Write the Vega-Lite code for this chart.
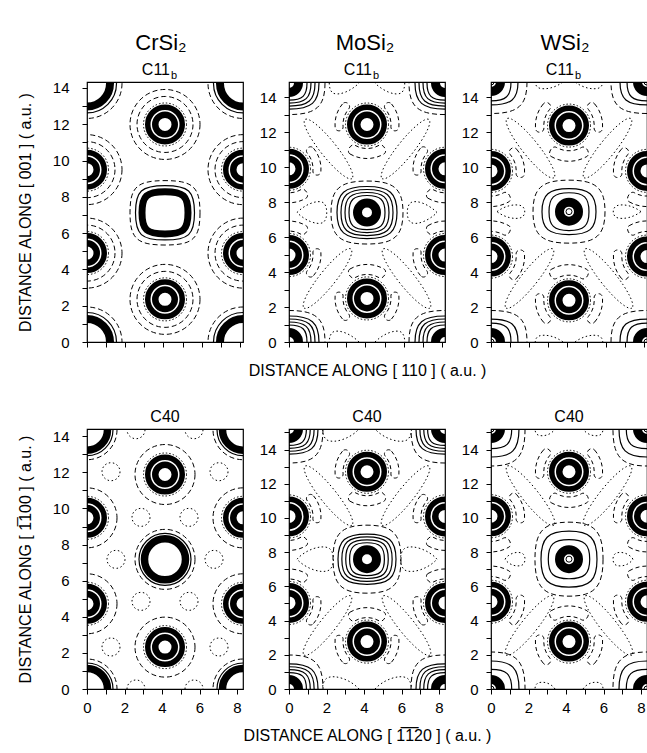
{
"$schema":"https://vega.github.io/schema/vega-lite/v6.json",
"background":"white",
"padding":{"left":16,"top":31,"right":0,"bottom":0},
"config":{
 "font":"Liberation Sans",
 "view":{"stroke":"black","strokeWidth":1.2},
 "point":{"filled":false,"opacity":1,"stroke":"black","strokeWidth":1},
 "text":{"font":"Liberation Sans","fill":"black","fontSize":16},
 "axis":{"grid":false,"domain":false,"tickColor":"black","tickSize":5,"tickWidth":1,"labelFontSize":15,"labelColor":"black","labelFont":"Liberation Sans","titleFont":"Liberation Sans","titleFontSize":16,"titleFontWeight":"normal","titleColor":"black","labelFlush":false,"labelOverlap":false,"labelPadding":8}
},
"datasets":{"atoms":[
 {"p":"P1","t":"M","x":4.08,"y":7.12},{"p":"P1","t":"M","x":0,"y":0},{"p":"P1","t":"M","x":8.16,"y":0},{"p":"P1","t":"M","x":0,"y":14.25},{"p":"P1","t":"M","x":8.16,"y":14.25},
 {"p":"P1","t":"Si","x":4.08,"y":11.99},{"p":"P1","t":"Si","x":4.08,"y":2.35},{"p":"P1","t":"Si","x":0,"y":9.5},{"p":"P1","t":"Si","x":0,"y":4.9},{"p":"P1","t":"Si","x":8.16,"y":9.5},{"p":"P1","t":"Si","x":8.16,"y":4.9},
 {"p":"P2","t":"M","x":4.08,"y":7.4},{"p":"P2","t":"M","x":0,"y":0},{"p":"P2","t":"M","x":8.16,"y":0},{"p":"P2","t":"M","x":0,"y":14.8},{"p":"P2","t":"M","x":8.16,"y":14.8},
 {"p":"P2","t":"Si","x":4.08,"y":12.43},{"p":"P2","t":"Si","x":4.08,"y":2.49},{"p":"P2","t":"Si","x":0,"y":9.9},{"p":"P2","t":"Si","x":0,"y":4.97},{"p":"P2","t":"Si","x":8.16,"y":9.9},{"p":"P2","t":"Si","x":8.16,"y":4.97},
 {"p":"P3","t":"M","x":4.08,"y":7.45},{"p":"P3","t":"M","x":0,"y":0},{"p":"P3","t":"M","x":8.16,"y":0},{"p":"P3","t":"M","x":0,"y":14.86},{"p":"P3","t":"M","x":8.16,"y":14.86},
 {"p":"P3","t":"Si","x":4.08,"y":12.37},{"p":"P3","t":"Si","x":4.08,"y":2.38},{"p":"P3","t":"Si","x":0,"y":9.78},{"p":"P3","t":"Si","x":0,"y":4.88},{"p":"P3","t":"Si","x":8.16,"y":9.78},{"p":"P3","t":"Si","x":8.16,"y":4.88},
 {"p":"P4","t":"M","x":4.16,"y":7.18},{"p":"P4","t":"M","x":0,"y":0},{"p":"P4","t":"M","x":8.32,"y":0},{"p":"P4","t":"M","x":0,"y":14.36},{"p":"P4","t":"M","x":8.32,"y":14.36},
 {"p":"P4","t":"Si","x":4.16,"y":11.88},{"p":"P4","t":"Si","x":4.16,"y":2.32},{"p":"P4","t":"Si","x":0,"y":9.48},{"p":"P4","t":"Si","x":0,"y":4.72},{"p":"P4","t":"Si","x":8.32,"y":9.48},{"p":"P4","t":"Si","x":8.32,"y":4.72},
 {"p":"P5","t":"M","x":4.16,"y":7.59},{"p":"P5","t":"M","x":0,"y":0},{"p":"P5","t":"M","x":8.32,"y":0},{"p":"P5","t":"M","x":0,"y":15.2},{"p":"P5","t":"M","x":8.32,"y":15.2},
 {"p":"P5","t":"Si","x":4.16,"y":12.7},{"p":"P5","t":"Si","x":4.16,"y":2.77},{"p":"P5","t":"Si","x":0,"y":10.09},{"p":"P5","t":"Si","x":0,"y":5.03},{"p":"P5","t":"Si","x":8.32,"y":10.09},{"p":"P5","t":"Si","x":8.32,"y":5.03},
 {"p":"P6","t":"M","x":4.16,"y":7.59},{"p":"P6","t":"M","x":0,"y":0},{"p":"P6","t":"M","x":8.32,"y":0},{"p":"P6","t":"M","x":0,"y":15.2},{"p":"P6","t":"M","x":8.32,"y":15.2},
 {"p":"P6","t":"Si","x":4.16,"y":12.7},{"p":"P6","t":"Si","x":4.16,"y":2.77},{"p":"P6","t":"Si","x":0,"y":10.1},{"p":"P6","t":"Si","x":0,"y":5.1},{"p":"P6","t":"Si","x":8.32,"y":10.1},{"p":"P6","t":"Si","x":8.32,"y":5.1}
]},
"columns":3,
"spacing":{"row":87,"column":46},
"bounds":"flush",
"concat":[
{
 "width":156,"height":260,"data":{"name":"atoms"},
 "resolve":{"axis":{"x":"independent","y":"independent"}},
 "layer":[
 {
  "encoding":{
   "x":{"field":"x","type":"quantitative","scale":{"domain":[0,8.16],"nice":false,"zero":false},"axis":{"values":[0,1,2,3,4,5,6,7,8],"labels":false,"title":null}},
   "y":{"field":"y","type":"quantitative","scale":{"domain":[0,14.33],"nice":false,"zero":false},"axis":{"values":[0,1,2,3,4,5,6,7,8,9,10,11,12,13,14],"labelExpr":"datum.value % 2 == 0 ? datum.label : ''","labelPadding":13,"title":"DISTANCE ALONG [ 001 ]  ( a.u. )","titlePadding":19}}
  },
  "layer":[
   {"transform":[{"filter":"datum.p=='P1' && datum.t=='Si'"}],"mark":{"type":"point","shape":"circle","size":4900,"strokeDash":[5,3],"clip":true}},
   {"transform":[{"filter":"datum.p=='P1' && datum.t=='Si'"}],"mark":{"type":"point","shape":"circle","size":3136,"strokeDash":[5,3],"clip":true}},
   {"transform":[{"filter":"datum.p=='P1' && datum.t=='Si'"}],"mark":{"type":"point","shape":"circle","size":1849,"strokeDash":[1.5,2],"clip":true}},
   {"transform":[{"filter":"datum.p=='P1' && datum.t=='Si'"}],"mark":{"type":"point","shape":"circle","size":1190,"strokeWidth":5.5,"clip":true}},
   {"transform":[{"filter":"datum.p=='P1' && datum.t=='Si'"}],"mark":{"type":"point","shape":"circle","size":380,"strokeWidth":6.5,"clip":true}},
   {"transform":[{"filter":"datum.p=='P1' && datum.t=='M' && datum.x > 1 && datum.x < 7"}],"mark":{"type":"point","shape":"M 1 0 C 1 0.74 0.8 0.92 0 0.92 C -0.8 0.92 -1 0.74 -1 0 C -1 -0.74 -0.8 -0.92 0 -0.92 C 0.8 -0.92 1 -0.74 1 0 Z","size":4900,"strokeDash":[5,3],"clip":true}},
   {"transform":[{"filter":"datum.p=='P1' && datum.t=='M' && datum.x > 1 && datum.x < 7"}],"mark":{"type":"point","shape":"M 1 0 C 1 0.74 0.8 0.92 0 0.92 C -0.8 0.92 -1 0.74 -1 0 C -1 -0.74 -0.8 -0.92 0 -0.92 C 0.8 -0.92 1 -0.74 1 0 Z","size":3481,"strokeWidth":1.2,"clip":true}},
   {"transform":[{"filter":"datum.p=='P1' && datum.t=='M' && datum.x > 1 && datum.x < 7"}],"mark":{"type":"point","shape":"M 1 0 C 1 0.74 0.8 0.92 0 0.92 C -0.8 0.92 -1 0.74 -1 0 C -1 -0.74 -0.8 -0.92 0 -0.92 C 0.8 -0.92 1 -0.74 1 0 Z","size":2116,"strokeWidth":7,"clip":true}},
   {"transform":[{"filter":"datum.p=='P1' && datum.t=='M' && (datum.x < 1 || datum.x > 7)"}],"mark":{"type":"point","shape":"circle","size":4900,"strokeDash":[5,3],"clip":true}},
   {"transform":[{"filter":"datum.p=='P1' && datum.t=='M' && (datum.x < 1 || datum.x > 7)"}],"mark":{"type":"point","shape":"circle","size":3481,"strokeWidth":1.2,"clip":true}},
   {"transform":[{"filter":"datum.p=='P1' && datum.t=='M' && (datum.x < 1 || datum.x > 7)"}],"mark":{"type":"point","shape":"circle","size":2116,"strokeWidth":8,"clip":true}}
  ]
 },
 {"data":{"values":[{"lab":"CrSi₂"}]},"mark":{"type":"text","fontSize":22,"baseline":"alphabetic","dy":-32,"dx":-4},"encoding":{"x":{"datum":4.08,"axis":null},"y":{"datum":14.33,"axis":null},"text":{"field":"lab"}}},
 {"data":{"values":[{"lab":"C11"}]},"mark":{"type":"text","fontSize":16,"align":"right","baseline":"alphabetic","dy":-7,"dx":5},"encoding":{"x":{"datum":4.08,"axis":null},"y":{"datum":14.33,"axis":null},"text":{"field":"lab"}}},
 {"data":{"values":[{"lab":"b"}]},"mark":{"type":"text","fontSize":11,"align":"left","baseline":"alphabetic","dy":-3,"dx":6},"encoding":{"x":{"datum":4.08,"axis":null},"y":{"datum":14.33,"axis":null},"text":{"field":"lab"}}}
 ]
},
{
 "width":156,"height":260,"data":{"name":"atoms"},
 "resolve":{"axis":{"x":"independent","y":"independent"}},
 "layer":[
 {
  "encoding":{
   "x":{"field":"x","type":"quantitative","scale":{"domain":[0,8.16],"nice":false,"zero":false},"axis":{"values":[0,1,2,3,4,5,6,7,8],"labels":false,"title":"DISTANCE ALONG [ 110 ]  ( a.u. )","titlePadding":15}},
   "y":{"field":"y","type":"quantitative","scale":{"domain":[0,14.86],"nice":false,"zero":false},"axis":{"values":[0,1,2,3,4,5,6,7,8,9,10,11,12,13,14],"labelExpr":"datum.value % 2 == 0 ? datum.label : ''","labelPadding":8,"title":null}}
  },
  "layer":[
   {"transform":[{"filter":"datum.p=='P2' && datum.t=='M'"}],"mark":{"type":"point","shape":"M -0.70 0 C -0.62 -0.08 -0.50 -0.13 -0.44 -0.10 C -0.39 -0.07 -0.39 0.07 -0.44 0.10 C -0.50 0.13 -0.62 0.08 -0.70 0 Z M 0.70 0 C 0.62 -0.08 0.50 -0.13 0.44 -0.10 C 0.39 -0.07 0.39 0.07 0.44 0.10 C 0.50 0.13 0.62 0.08 0.70 0 Z M -0.150 -0.340 C -0.185 -0.313 -0.318 -0.422 -0.448 -0.585 C -0.578 -0.748 -0.655 -0.903 -0.620 -0.930 C -0.585 -0.958 -0.452 -0.848 -0.322 -0.685 C -0.192 -0.522 -0.115 -0.368 -0.150 -0.340 Z M 0.150 -0.340 C 0.185 -0.313 0.318 -0.422 0.448 -0.585 C 0.578 -0.748 0.655 -0.903 0.620 -0.930 C 0.585 -0.958 0.452 -0.848 0.322 -0.685 C 0.192 -0.522 0.115 -0.368 0.150 -0.340 Z","size":40000,"strokeDash":[1.5,2.5],"clip":true}},
   {"transform":[{"filter":"datum.p=='P2' && datum.t=='M'"}],"mark":{"type":"point","shape":"M 1 0 C 1 0.656 0.75 0.875 0 0.875 C -0.75 0.875 -1 0.656 -1 0 C -1 -0.656 -0.75 -0.875 0 -0.875 C 0.75 -0.875 1 -0.656 1 0 Z","size":5184,"strokeDash":[5,3],"clip":true}},
   {"transform":[{"filter":"datum.p=='P2' && datum.t=='M'"}],"mark":{"type":"point","shape":"M 1 0 C 1 0.65 0.75 0.867 0 0.867 C -0.75 0.867 -1 0.65 -1 0 C -1 -0.65 -0.75 -0.867 0 -0.867 C 0.75 -0.867 1 -0.65 1 0 Z M 0.867 0 C 0.867 0.575 0.65 0.767 0 0.767 C -0.65 0.767 -0.867 0.575 -0.867 0 C -0.867 -0.575 -0.65 -0.767 0 -0.767 C 0.65 -0.767 0.867 -0.575 0.867 0 Z M 0.733 0 C 0.733 0.5 0.55 0.667 0 0.667 C -0.55 0.667 -0.733 0.5 -0.733 0 C -0.733 -0.5 -0.55 -0.667 0 -0.667 C 0.55 -0.667 0.733 -0.5 0.733 0 Z M 0.6 0 C 0.6 0.425 0.45 0.567 0 0.567 C -0.45 0.567 -0.6 0.425 -0.6 0 C -0.6 -0.425 -0.45 -0.567 0 -0.567 C 0.45 -0.567 0.6 -0.425 0.6 0 Z","size":3600,"strokeWidth":1.2,"clip":true}},
   {"transform":[{"filter":"datum.p=='P2' && datum.t=='M'"}],"mark":{"type":"point","shape":"circle","size":361,"strokeWidth":9,"clip":true}},
   {"transform":[{"filter":"datum.p=='P2' && datum.t=='Si' && datum.y > 7.5"}],"mark":{"type":"point","shape":"M -0.613 -0.514 C -0.749 -0.351 -0.815 -0.141 -0.797 0.070 C -0.786 0.199 -0.587 0.181 -0.598 0.052 C -0.612 -0.106 -0.562 -0.264 -0.460 -0.386 C -0.376 -0.486 -0.529 -0.614 -0.613 -0.514 Z M 0.613 -0.514 C 0.749 -0.351 0.815 -0.141 0.797 0.070 C 0.786 0.199 0.587 0.181 0.598 0.052 C 0.612 -0.106 0.562 -0.264 0.460 -0.386 C 0.376 -0.486 0.529 -0.614 0.613 -0.514 Z M -0.425 0.736 C -0.162 0.888 0.162 0.888 0.425 0.736 C 0.529 0.676 0.404 0.460 0.3 0.520 C 0.115 0.627 -0.115 0.627 -0.3 0.520 C -0.404 0.460 -0.529 0.676 -0.425 0.736 Z","size":6400,"strokeDash":[4,3],"clip":true}},
   {"transform":[{"filter":"datum.p=='P2' && datum.t=='Si' && datum.y < 7.5"}],"mark":{"type":"point","shape":"M -0.613 0.514 C -0.749 0.351 -0.815 0.141 -0.797 -0.070 C -0.786 -0.199 -0.587 -0.181 -0.598 -0.052 C -0.612 0.106 -0.562 0.264 -0.460 0.386 C -0.376 0.486 -0.529 0.614 -0.613 0.514 Z M 0.613 0.514 C 0.749 0.351 0.815 0.141 0.797 -0.070 C 0.786 -0.199 0.587 -0.181 0.598 -0.052 C 0.612 0.106 0.562 0.264 0.460 0.386 C 0.376 0.486 0.529 0.614 0.613 0.514 Z M -0.425 -0.736 C -0.162 -0.888 0.162 -0.888 0.425 -0.736 C 0.529 -0.676 0.404 -0.460 0.3 -0.520 C 0.115 -0.627 -0.115 -0.627 -0.3 -0.520 C -0.404 -0.460 -0.529 -0.676 -0.425 -0.736 Z","size":6400,"strokeDash":[4,3],"clip":true}},
   {"transform":[{"filter":"datum.p=='P2' && datum.t=='Si'"}],"mark":{"type":"point","shape":"circle","size":1849,"strokeDash":[1.5,2],"clip":true}},
   {"transform":[{"filter":"datum.p=='P2' && datum.t=='Si'"}],"mark":{"type":"point","shape":"circle","size":1190,"strokeWidth":5.5,"clip":true}},
   {"transform":[{"filter":"datum.p=='P2' && datum.t=='Si'"}],"mark":{"type":"point","shape":"circle","size":380,"strokeWidth":6.5,"clip":true}}
  ]
 },
 {"data":{"values":[{"lab":"MoSi₂"}]},"mark":{"type":"text","fontSize":22,"baseline":"alphabetic","dy":-32,"dx":-2},"encoding":{"x":{"datum":4.08,"axis":null},"y":{"datum":14.86,"axis":null},"text":{"field":"lab"}}},
 {"data":{"values":[{"lab":"C11"}]},"mark":{"type":"text","fontSize":16,"align":"right","baseline":"alphabetic","dy":-7,"dx":5},"encoding":{"x":{"datum":4.08,"axis":null},"y":{"datum":14.86,"axis":null},"text":{"field":"lab"}}},
 {"data":{"values":[{"lab":"b"}]},"mark":{"type":"text","fontSize":11,"align":"left","baseline":"alphabetic","dy":-3,"dx":6},"encoding":{"x":{"datum":4.08,"axis":null},"y":{"datum":14.86,"axis":null},"text":{"field":"lab"}}}
 ]
},
{
 "width":156,"height":260,"data":{"name":"atoms"},
 "resolve":{"axis":{"x":"independent","y":"independent"}},
 "layer":[
 {
  "encoding":{
   "x":{"field":"x","type":"quantitative","scale":{"domain":[0,8.16],"nice":false,"zero":false},"axis":{"values":[0,1,2,3,4,5,6,7,8],"labels":false,"title":null}},
   "y":{"field":"y","type":"quantitative","scale":{"domain":[0,14.86],"nice":false,"zero":false},"axis":{"values":[0,1,2,3,4,5,6,7,8,9,10,11,12,13,14],"labelExpr":"datum.value % 2 == 0 ? datum.label : ''","labelPadding":8,"title":null}}
  },
  "layer":[
   {"transform":[{"filter":"datum.p=='P3' && datum.t=='M'"}],"mark":{"type":"point","shape":"M -0.72 0 C -0.64 -0.06 -0.54 -0.08 -0.48 -0.06 C -0.43 -0.04 -0.43 0.04 -0.48 0.06 C -0.54 0.08 -0.64 0.06 -0.72 0 Z M 0.72 0 C 0.64 -0.06 0.54 -0.08 0.48 -0.06 C 0.43 -0.04 0.43 0.04 0.48 0.06 C 0.54 0.08 0.64 0.06 0.72 0 Z M -0.150 -0.340 C -0.185 -0.313 -0.318 -0.422 -0.448 -0.585 C -0.578 -0.748 -0.655 -0.903 -0.620 -0.930 C -0.585 -0.958 -0.452 -0.848 -0.322 -0.685 C -0.192 -0.522 -0.115 -0.368 -0.150 -0.340 Z M 0.150 -0.340 C 0.185 -0.313 0.318 -0.422 0.448 -0.585 C 0.578 -0.748 0.655 -0.903 0.620 -0.930 C 0.585 -0.958 0.452 -0.848 0.322 -0.685 C 0.192 -0.522 0.115 -0.368 0.150 -0.340 Z","size":40000,"strokeDash":[1.5,2.5],"clip":true}},
   {"transform":[{"filter":"datum.p=='P3' && datum.t=='M'"}],"mark":{"type":"point","shape":"M 1 0 C 1 0.656 0.75 0.875 0 0.875 C -0.75 0.875 -1 0.656 -1 0 C -1 -0.656 -0.75 -0.875 0 -0.875 C 0.75 -0.875 1 -0.656 1 0 Z","size":5184,"strokeDash":[5,3],"clip":true}},
   {"transform":[{"filter":"datum.p=='P3' && datum.t=='M'"}],"mark":{"type":"point","shape":"M 1 0 C 1 0.64 0.75 0.85 0 0.85 C -0.75 0.85 -1 0.64 -1 0 C -1 -0.64 -0.75 -0.85 0 -0.85 C 0.75 -0.85 1 -0.64 1 0 Z M 0.74 0 C 0.74 0.525 0.555 0.7 0 0.7 C -0.555 0.7 -0.74 0.525 -0.74 0 C -0.74 -0.525 -0.555 -0.7 0 -0.7 C 0.555 -0.7 0.74 -0.525 0.74 0 Z","size":2916,"strokeWidth":1.2,"clip":true}},
   {"transform":[{"filter":"datum.p=='P3' && datum.t=='M'"}],"mark":{"type":"point","shape":"circle","size":361,"strokeWidth":9,"clip":true}},
   {"transform":[{"filter":"datum.p=='P3' && datum.t=='M'"}],"mark":{"type":"point","shape":"circle","size":36,"strokeWidth":1,"clip":true}},
   {"transform":[{"filter":"datum.p=='P3' && datum.t=='Si' && datum.y > 7.5"}],"mark":{"type":"point","shape":"M -0.613 -0.514 C -0.749 -0.351 -0.815 -0.141 -0.797 0.070 C -0.786 0.199 -0.587 0.181 -0.598 0.052 C -0.612 -0.106 -0.562 -0.264 -0.460 -0.386 C -0.376 -0.486 -0.529 -0.614 -0.613 -0.514 Z M 0.613 -0.514 C 0.749 -0.351 0.815 -0.141 0.797 0.070 C 0.786 0.199 0.587 0.181 0.598 0.052 C 0.612 -0.106 0.562 -0.264 0.460 -0.386 C 0.376 -0.486 0.529 -0.614 0.613 -0.514 Z M -0.425 0.736 C -0.162 0.888 0.162 0.888 0.425 0.736 C 0.529 0.676 0.404 0.460 0.3 0.520 C 0.115 0.627 -0.115 0.627 -0.3 0.520 C -0.404 0.460 -0.529 0.676 -0.425 0.736 Z","size":7056,"strokeDash":[4,3],"clip":true}},
   {"transform":[{"filter":"datum.p=='P3' && datum.t=='Si' && datum.y < 7.5"}],"mark":{"type":"point","shape":"M -0.613 0.514 C -0.749 0.351 -0.815 0.141 -0.797 -0.070 C -0.786 -0.199 -0.587 -0.181 -0.598 -0.052 C -0.612 0.106 -0.562 0.264 -0.460 0.386 C -0.376 0.486 -0.529 0.614 -0.613 0.514 Z M 0.613 0.514 C 0.749 0.351 0.815 0.141 0.797 -0.070 C 0.786 -0.199 0.587 -0.181 0.598 -0.052 C 0.612 0.106 0.562 0.264 0.460 0.386 C 0.376 0.486 0.529 0.614 0.613 0.514 Z M -0.425 -0.736 C -0.162 -0.888 0.162 -0.888 0.425 -0.736 C 0.529 -0.676 0.404 -0.460 0.3 -0.520 C 0.115 -0.627 -0.115 -0.627 -0.3 -0.520 C -0.404 -0.460 -0.529 -0.676 -0.425 -0.736 Z","size":7056,"strokeDash":[4,3],"clip":true}},
   {"transform":[{"filter":"datum.p=='P3' && datum.t=='Si'"}],"mark":{"type":"point","shape":"circle","size":1849,"strokeDash":[1.5,2],"clip":true}},
   {"transform":[{"filter":"datum.p=='P3' && datum.t=='Si'"}],"mark":{"type":"point","shape":"circle","size":1190,"strokeWidth":5.5,"clip":true}},
   {"transform":[{"filter":"datum.p=='P3' && datum.t=='Si'"}],"mark":{"type":"point","shape":"circle","size":380,"strokeWidth":6.5,"clip":true}}
  ]
 },
 {"data":{"values":[{"lab":"WSi₂"}]},"mark":{"type":"text","fontSize":22,"baseline":"alphabetic","dy":-32,"dx":-4},"encoding":{"x":{"datum":4.08,"axis":null},"y":{"datum":14.86,"axis":null},"text":{"field":"lab"}}},
 {"data":{"values":[{"lab":"C11"}]},"mark":{"type":"text","fontSize":16,"align":"right","baseline":"alphabetic","dy":-7,"dx":5},"encoding":{"x":{"datum":4.08,"axis":null},"y":{"datum":14.86,"axis":null},"text":{"field":"lab"}}},
 {"data":{"values":[{"lab":"b"}]},"mark":{"type":"text","fontSize":11,"align":"left","baseline":"alphabetic","dy":-3,"dx":6},"encoding":{"x":{"datum":4.08,"axis":null},"y":{"datum":14.86,"axis":null},"text":{"field":"lab"}}}
 ]
},
{
 "width":156,"height":260,"data":{"name":"atoms"},
 "resolve":{"axis":{"x":"independent","y":"independent"}},
 "layer":[
 {
  "encoding":{
   "x":{"field":"x","type":"quantitative","scale":{"domain":[0,8.32],"nice":false,"zero":false},"axis":{"values":[0,1,2,3,4,5,6,7,8],"labelExpr":"datum.value % 2 == 0 ? datum.label : ''","labelPadding":6,"title":null}},
   "y":{"field":"y","type":"quantitative","scale":{"domain":[0,14.4],"nice":false,"zero":false},"axis":{"values":[0,1,2,3,4,5,6,7,8,9,10,11,12,13,14],"labelExpr":"datum.value % 2 == 0 ? datum.label : ''","labelPadding":13,"title":"DISTANCE ALONG [ 1̅100 ]  ( a.u. )","titlePadding":19}}
  },
  "layer":[
   {"transform":[{"filter":"datum.p=='P4' && datum.t=='M'"}],"mark":{"type":"point","shape":"M 0.33 -0.42 C 0.33 -0.37 0.29 -0.33 0.24 -0.33 C 0.19 -0.33 0.15 -0.37 0.15 -0.42 C 0.15 -0.47 0.19 -0.51 0.24 -0.51 C 0.29 -0.51 0.33 -0.47 0.33 -0.42 Z M -0.15 -0.42 C -0.15 -0.37 -0.19 -0.33 -0.24 -0.33 C -0.29 -0.33 -0.33 -0.37 -0.33 -0.42 C -0.33 -0.47 -0.29 -0.51 -0.24 -0.51 C -0.19 -0.51 -0.15 -0.47 -0.15 -0.42 Z M 0.33 0.42 C 0.33 0.47 0.29 0.51 0.24 0.51 C 0.19 0.51 0.15 0.47 0.15 0.42 C 0.15 0.37 0.19 0.33 0.24 0.33 C 0.29 0.33 0.33 0.37 0.33 0.42 Z M -0.15 0.42 C -0.15 0.47 -0.19 0.51 -0.24 0.51 C -0.29 0.51 -0.33 0.47 -0.33 0.42 C -0.33 0.37 -0.29 0.33 -0.24 0.33 C -0.19 0.33 -0.15 0.37 -0.15 0.42 Z M 0.58 0 C 0.58 0.05 0.54 0.09 0.49 0.09 C 0.44 0.09 0.40 0.05 0.40 0 C 0.40 -0.05 0.44 -0.09 0.49 -0.09 C 0.54 -0.09 0.58 -0.05 0.58 0 Z M -0.40 0 C -0.40 0.05 -0.44 0.09 -0.49 0.09 C -0.54 0.09 -0.58 0.05 -0.58 0 C -0.58 -0.05 -0.54 -0.09 -0.49 -0.09 C -0.44 -0.09 -0.40 -0.05 -0.40 0 Z","size":40000,"strokeDash":[1.5,2.5],"clip":true}},
   {"transform":[{"filter":"datum.p=='P4' && datum.t=='M'"}],"mark":{"type":"point","shape":"circle","size":3600,"strokeDash":[5,3],"clip":true}},
   {"transform":[{"filter":"datum.p=='P4' && datum.t=='M'"}],"mark":{"type":"point","shape":"circle","size":2704,"strokeWidth":1.2,"clip":true}},
   {"transform":[{"filter":"datum.p=='P4' && datum.t=='M'"}],"mark":{"type":"point","shape":"circle","size":1681,"strokeWidth":7.5,"clip":true}},
   {"transform":[{"filter":"datum.p=='P4' && datum.t=='Si'"}],"mark":{"type":"point","shape":"circle","size":3600,"strokeDash":[5,3],"clip":true}},
   {"transform":[{"filter":"datum.p=='P4' && datum.t=='Si'"}],"mark":{"type":"point","shape":"circle","size":1849,"strokeDash":[1.5,2],"clip":true}},
   {"transform":[{"filter":"datum.p=='P4' && datum.t=='Si'"}],"mark":{"type":"point","shape":"circle","size":1190,"strokeWidth":5.5,"clip":true}},
   {"transform":[{"filter":"datum.p=='P4' && datum.t=='Si'"}],"mark":{"type":"point","shape":"circle","size":380,"strokeWidth":6.5,"clip":true}}
  ]
 },
 {"data":{"values":[{"lab":"C40"}]},"mark":{"type":"text","fontSize":16,"baseline":"alphabetic","dy":-7},"encoding":{"x":{"datum":4.16,"axis":null},"y":{"datum":14.4,"axis":null},"text":{"field":"lab"}}}
 ]
},
{
 "width":156,"height":260,"data":{"name":"atoms"},
 "resolve":{"axis":{"x":"independent","y":"independent"}},
 "layer":[
 {
  "encoding":{
   "x":{"field":"x","type":"quantitative","scale":{"domain":[0,8.32],"nice":false,"zero":false},"axis":{"values":[0,1,2,3,4,5,6,7,8],"labelExpr":"datum.value % 2 == 0 ? datum.label : ''","labelPadding":6,"title":"DISTANCE ALONG [ 1̅1̅20 ]  ( a.u. )","titlePadding":12}},
   "y":{"field":"y","type":"quantitative","scale":{"domain":[0,15.2],"nice":false,"zero":false},"axis":{"values":[0,1,2,3,4,5,6,7,8,9,10,11,12,13,14,15],"labelExpr":"datum.value % 2 == 0 ? datum.label : ''","labelPadding":8,"title":null}}
  },
  "layer":[
   {"transform":[{"filter":"datum.p=='P5' && datum.t=='M'"}],"mark":{"type":"point","shape":"M -0.70 0 C -0.62 -0.09 -0.46 -0.15 -0.38 -0.11 C -0.32 -0.07 -0.32 0.07 -0.38 0.11 C -0.46 0.15 -0.62 0.09 -0.70 0 Z M 0.70 0 C 0.62 -0.09 0.46 -0.15 0.38 -0.11 C 0.32 -0.07 0.32 0.07 0.38 0.11 C 0.46 0.15 0.62 0.09 0.70 0 Z M -0.150 -0.340 C -0.185 -0.313 -0.318 -0.422 -0.448 -0.585 C -0.578 -0.748 -0.655 -0.903 -0.620 -0.930 C -0.585 -0.958 -0.452 -0.848 -0.322 -0.685 C -0.192 -0.522 -0.115 -0.368 -0.150 -0.340 Z M 0.150 -0.340 C 0.185 -0.313 0.318 -0.422 0.448 -0.585 C 0.578 -0.748 0.655 -0.903 0.620 -0.930 C 0.585 -0.958 0.452 -0.848 0.322 -0.685 C 0.192 -0.522 0.115 -0.368 0.150 -0.340 Z","size":40000,"strokeDash":[1.5,2.5],"clip":true}},
   {"transform":[{"filter":"datum.p=='P5' && datum.t=='M'"}],"mark":{"type":"point","shape":"M 1 0 C 1 0.75 0.75 1 0 1 C -0.75 1 -1 0.75 -1 0 C -1 -0.75 -0.75 -1 0 -1 C 0.75 -1 1 -0.75 1 0 Z","size":4624,"strokeDash":[5,3],"clip":true}},
   {"transform":[{"filter":"datum.p=='P5' && datum.t=='M'"}],"mark":{"type":"point","shape":"M 1 0 C 1 0.65 0.75 0.867 0 0.867 C -0.75 0.867 -1 0.65 -1 0 C -1 -0.65 -0.75 -0.867 0 -0.867 C 0.75 -0.867 1 -0.65 1 0 Z M 0.867 0 C 0.867 0.575 0.65 0.767 0 0.767 C -0.65 0.767 -0.867 0.575 -0.867 0 C -0.867 -0.575 -0.65 -0.767 0 -0.767 C 0.65 -0.767 0.867 -0.575 0.867 0 Z M 0.733 0 C 0.733 0.5 0.55 0.667 0 0.667 C -0.55 0.667 -0.733 0.5 -0.733 0 C -0.733 -0.5 -0.55 -0.667 0 -0.667 C 0.55 -0.667 0.733 -0.5 0.733 0 Z M 0.6 0 C 0.6 0.425 0.45 0.567 0 0.567 C -0.45 0.567 -0.6 0.425 -0.6 0 C -0.6 -0.425 -0.45 -0.567 0 -0.567 C 0.45 -0.567 0.6 -0.425 0.6 0 Z","size":3364,"strokeWidth":1.2,"clip":true}},
   {"transform":[{"filter":"datum.p=='P5' && datum.t=='M'"}],"mark":{"type":"point","shape":"circle","size":361,"strokeWidth":9,"clip":true}},
   {"transform":[{"filter":"datum.p=='P5' && datum.t=='Si' && datum.y > 7.5"}],"mark":{"type":"point","shape":"M -0.613 -0.514 C -0.749 -0.351 -0.815 -0.141 -0.797 0.070 C -0.786 0.199 -0.587 0.181 -0.598 0.052 C -0.612 -0.106 -0.562 -0.264 -0.460 -0.386 C -0.376 -0.486 -0.529 -0.614 -0.613 -0.514 Z M 0.613 -0.514 C 0.749 -0.351 0.815 -0.141 0.797 0.070 C 0.786 0.199 0.587 0.181 0.598 0.052 C 0.612 -0.106 0.562 -0.264 0.460 -0.386 C 0.376 -0.486 0.529 -0.614 0.613 -0.514 Z M -0.425 0.736 C -0.162 0.888 0.162 0.888 0.425 0.736 C 0.529 0.676 0.404 0.460 0.3 0.520 C 0.115 0.627 -0.115 0.627 -0.3 0.520 C -0.404 0.460 -0.529 0.676 -0.425 0.736 Z","size":6400,"strokeDash":[4,3],"clip":true}},
   {"transform":[{"filter":"datum.p=='P5' && datum.t=='Si' && datum.y < 7.5"}],"mark":{"type":"point","shape":"M -0.613 0.514 C -0.749 0.351 -0.815 0.141 -0.797 -0.070 C -0.786 -0.199 -0.587 -0.181 -0.598 -0.052 C -0.612 0.106 -0.562 0.264 -0.460 0.386 C -0.376 0.486 -0.529 0.614 -0.613 0.514 Z M 0.613 0.514 C 0.749 0.351 0.815 0.141 0.797 -0.070 C 0.786 -0.199 0.587 -0.181 0.598 -0.052 C 0.612 0.106 0.562 0.264 0.460 0.386 C 0.376 0.486 0.529 0.614 0.613 0.514 Z M -0.425 -0.736 C -0.162 -0.888 0.162 -0.888 0.425 -0.736 C 0.529 -0.676 0.404 -0.460 0.3 -0.520 C 0.115 -0.627 -0.115 -0.627 -0.3 -0.520 C -0.404 -0.460 -0.529 -0.676 -0.425 -0.736 Z","size":6400,"strokeDash":[4,3],"clip":true}},
   {"transform":[{"filter":"datum.p=='P5' && datum.t=='Si'"}],"mark":{"type":"point","shape":"circle","size":1849,"strokeDash":[1.5,2],"clip":true}},
   {"transform":[{"filter":"datum.p=='P5' && datum.t=='Si'"}],"mark":{"type":"point","shape":"circle","size":1190,"strokeWidth":5.5,"clip":true}},
   {"transform":[{"filter":"datum.p=='P5' && datum.t=='Si'"}],"mark":{"type":"point","shape":"circle","size":380,"strokeWidth":6.5,"clip":true}}
  ]
 },
 {"data":{"values":[{"lab":"C40"}]},"mark":{"type":"text","fontSize":16,"baseline":"alphabetic","dy":-7},"encoding":{"x":{"datum":4.16,"axis":null},"y":{"datum":15.2,"axis":null},"text":{"field":"lab"}}}
 ]
},
{
 "width":156,"height":260,"data":{"name":"atoms"},
 "resolve":{"axis":{"x":"independent","y":"independent"}},
 "layer":[
 {
  "encoding":{
   "x":{"field":"x","type":"quantitative","scale":{"domain":[0,8.32],"nice":false,"zero":false},"axis":{"values":[0,1,2,3,4,5,6,7,8],"labelExpr":"datum.value % 2 == 0 ? datum.label : ''","labelPadding":6,"title":null}},
   "y":{"field":"y","type":"quantitative","scale":{"domain":[0,15.2],"nice":false,"zero":false},"axis":{"values":[0,1,2,3,4,5,6,7,8,9,10,11,12,13,14,15],"labelExpr":"datum.value % 2 == 0 ? datum.label : ''","labelPadding":8,"title":null}}
  },
  "layer":[
   {"transform":[{"filter":"datum.p=='P6' && datum.t=='M'"}],"mark":{"type":"point","shape":"M -0.64 0 C -0.60 -0.06 -0.52 -0.08 -0.47 -0.06 C -0.43 -0.04 -0.43 0.04 -0.47 0.06 C -0.52 0.08 -0.60 0.06 -0.64 0 Z M 0.64 0 C 0.60 -0.06 0.52 -0.08 0.47 -0.06 C 0.43 -0.04 0.43 0.04 0.47 0.06 C 0.52 0.08 0.60 0.06 0.64 0 Z M -0.150 -0.340 C -0.185 -0.313 -0.318 -0.422 -0.448 -0.585 C -0.578 -0.748 -0.655 -0.903 -0.620 -0.930 C -0.585 -0.958 -0.452 -0.848 -0.322 -0.685 C -0.192 -0.522 -0.115 -0.368 -0.150 -0.340 Z M 0.150 -0.340 C 0.185 -0.313 0.318 -0.422 0.448 -0.585 C 0.578 -0.748 0.655 -0.903 0.620 -0.930 C 0.585 -0.958 0.452 -0.848 0.322 -0.685 C 0.192 -0.522 0.115 -0.368 0.150 -0.340 Z","size":40000,"strokeDash":[1.5,2.5],"clip":true}},
   {"transform":[{"filter":"datum.p=='P6' && datum.t=='M'"}],"mark":{"type":"point","shape":"M 0.92 0 C 0.92 0.75 0.69 1 0 1 C -0.69 1 -0.92 0.75 -0.92 0 C -0.92 -0.75 -0.69 -1 0 -1 C 0.69 -1 0.92 -0.75 0.92 0 Z","size":5476,"strokeDash":[5,3],"clip":true}},
   {"transform":[{"filter":"datum.p=='P6' && datum.t=='M'"}],"mark":{"type":"point","shape":"M 1 0 C 1 0.75 0.75 1 0 1 C -0.75 1 -1 0.75 -1 0 C -1 -0.75 -0.75 -1 0 -1 C 0.75 -1 1 -0.75 1 0 Z M 0.74 0 C 0.74 0.525 0.555 0.7 0 0.7 C -0.555 0.7 -0.74 0.525 -0.74 0 C -0.74 -0.525 -0.555 -0.7 0 -0.7 C 0.555 -0.7 0.74 -0.525 0.74 0 Z","size":3136,"strokeWidth":1.2,"clip":true}},
   {"transform":[{"filter":"datum.p=='P6' && datum.t=='M'"}],"mark":{"type":"point","shape":"circle","size":361,"strokeWidth":9,"clip":true}},
   {"transform":[{"filter":"datum.p=='P6' && datum.t=='M'"}],"mark":{"type":"point","shape":"circle","size":36,"strokeWidth":1,"clip":true}},
   {"transform":[{"filter":"datum.p=='P6' && datum.t=='Si' && datum.y > 7.5"}],"mark":{"type":"point","shape":"M -0.613 -0.514 C -0.749 -0.351 -0.815 -0.141 -0.797 0.070 C -0.786 0.199 -0.587 0.181 -0.598 0.052 C -0.612 -0.106 -0.562 -0.264 -0.460 -0.386 C -0.376 -0.486 -0.529 -0.614 -0.613 -0.514 Z M 0.613 -0.514 C 0.749 -0.351 0.815 -0.141 0.797 0.070 C 0.786 0.199 0.587 0.181 0.598 0.052 C 0.612 -0.106 0.562 -0.264 0.460 -0.386 C 0.376 -0.486 0.529 -0.614 0.613 -0.514 Z M -0.425 0.736 C -0.162 0.888 0.162 0.888 0.425 0.736 C 0.529 0.676 0.404 0.460 0.3 0.520 C 0.115 0.627 -0.115 0.627 -0.3 0.520 C -0.404 0.460 -0.529 0.676 -0.425 0.736 Z","size":7056,"strokeDash":[4,3],"clip":true}},
   {"transform":[{"filter":"datum.p=='P6' && datum.t=='Si' && datum.y < 7.5"}],"mark":{"type":"point","shape":"M -0.613 0.514 C -0.749 0.351 -0.815 0.141 -0.797 -0.070 C -0.786 -0.199 -0.587 -0.181 -0.598 -0.052 C -0.612 0.106 -0.562 0.264 -0.460 0.386 C -0.376 0.486 -0.529 0.614 -0.613 0.514 Z M 0.613 0.514 C 0.749 0.351 0.815 0.141 0.797 -0.070 C 0.786 -0.199 0.587 -0.181 0.598 -0.052 C 0.612 0.106 0.562 0.264 0.460 0.386 C 0.376 0.486 0.529 0.614 0.613 0.514 Z M -0.425 -0.736 C -0.162 -0.888 0.162 -0.888 0.425 -0.736 C 0.529 -0.676 0.404 -0.460 0.3 -0.520 C 0.115 -0.627 -0.115 -0.627 -0.3 -0.520 C -0.404 -0.460 -0.529 -0.676 -0.425 -0.736 Z","size":7056,"strokeDash":[4,3],"clip":true}},
   {"transform":[{"filter":"datum.p=='P6' && datum.t=='Si'"}],"mark":{"type":"point","shape":"circle","size":1849,"strokeDash":[1.5,2],"clip":true}},
   {"transform":[{"filter":"datum.p=='P6' && datum.t=='Si'"}],"mark":{"type":"point","shape":"circle","size":1190,"strokeWidth":5.5,"clip":true}},
   {"transform":[{"filter":"datum.p=='P6' && datum.t=='Si'"}],"mark":{"type":"point","shape":"circle","size":380,"strokeWidth":6.5,"clip":true}}
  ]
 },
 {"data":{"values":[{"lab":"C40"}]},"mark":{"type":"text","fontSize":16,"baseline":"alphabetic","dy":-7},"encoding":{"x":{"datum":4.16,"axis":null},"y":{"datum":15.2,"axis":null},"text":{"field":"lab"}}}
 ]
}
]
}
